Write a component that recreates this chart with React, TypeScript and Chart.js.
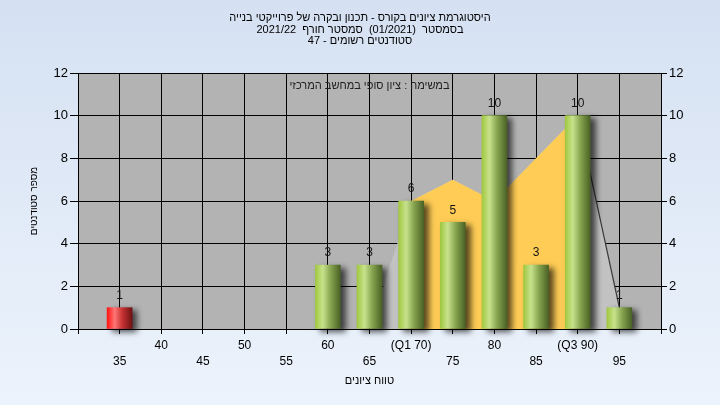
import React, { useEffect, useRef } from 'react';
import { Chart, registerables } from 'chart.js';

Chart.register(...registerables);

// ---- data ----
const categories = [30, 35, 40, 45, 50, 55, 60, 65, 70, 75, 80, 85, 90, 95, 100];
const tickLabels: string[][] = [
  [''], ['', '35'], ['40'], ['', '45'], ['50'], ['', '55'], ['60'], ['', '65'],
  ['(Q1 70)'], ['', '75'], ['80'], ['', '85'], ['(Q3 90)'], ['', '95'], [''],
];
const counts: (number | null)[] = [null, 1, 0, 0, 0, 0, 3, 3, 6, 5, 10, 3, 10, 1, null];
const envelope: (number | null)[] = [null, null, null, null, null, null, null, 0, 6, 7, 6, 8, 10, 1, null];
const quartileBand: (number | null)[] = [null, null, null, null, null, null, null, null, 6, 7, 6, 8, 10, null, null];
const failBelow = 55;
const yTickValues = [0, 2, 4, 6, 8, 10, 12];
const titleLines = [
  'היסטוגרמת ציונים בקורס - תכנון ובקרה של פרוייקטי בנייה',
  'בסמסטר  (01/2021)  סמסטר חורף  2021/22',
  'סטודנטים רשומים - 47',
];
const noteText = 'במשימה : ציון סופי במחשב המרכזי';
const xTitle = 'טווח ציונים';
const yTitle = 'מספר סטודנטים';

const FONT = '"Liberation Sans", Arial, sans-serif';

export default function App() {
  const ref = useRef<HTMLCanvasElement | null>(null);

  useEffect(() => {
    const canvas = ref.current;
    if (!canvas) return;

    const barFill = (c: any) => {
      const chart = c.chart;
      const xs = chart.scales && chart.scales.x;
      const idx = c.dataIndex;
      const isFail = idx != null && categories[idx] < failBelow;
      if (!xs || idx == null || !chart.chartArea) return isFail ? '#e02020' : '#9dc43c';
      const cx = xs.getPixelForValue(idx);
      const g = chart.ctx.createLinearGradient(cx - 12.5, 0, cx + 12.5, 0);
      if (isFail) {
        g.addColorStop(0, '#ff1414');
        g.addColorStop(0.3, '#ff7676');
        g.addColorStop(0.6, '#c83232');
        g.addColorStop(1, '#6e1212');
      } else {
        g.addColorStop(0, '#a0c840');
        g.addColorStop(0.3, '#c8e28c');
        g.addColorStop(0.6, '#88a650');
        g.addColorStop(1, '#4a6226');
      }
      return g;
    };

    const bgPlugin = {
      id: 'bg',
      beforeDraw(chart: any) {
        const { ctx, width, height, chartArea } = chart;
        ctx.save();
        const g = ctx.createLinearGradient(0, 0, 0, height);
        g.addColorStop(0, '#d5e1f2');
        g.addColorStop(1, '#ecf3fc');
        ctx.fillStyle = g;
        ctx.fillRect(0, 0, width, height);
        ctx.fillStyle = '#b3b3b3';
        ctx.fillRect(chartArea.left, chartArea.top, chartArea.right - chartArea.left, chartArea.bottom - chartArea.top);
        ctx.restore();
      },
    };

    const shadowPlugin = {
      id: 'shadow',
      beforeDatasetDraw(chart: any, args: any) {
        if (args.index !== 0) return;
        const ctx = chart.ctx;
        ctx.save();
        ctx.shadowColor = 'rgba(0,0,0,0.65)';
        ctx.shadowBlur = 6;
        ctx.shadowOffsetX = 5;
        ctx.shadowOffsetY = 3;
      },
      afterDatasetDraw(chart: any, args: any) {
        if (args.index !== 0) return;
        chart.ctx.restore();
      },
    };

    const textPlugin = {
      id: 'texts',
      afterDraw(chart: any) {
        const { ctx, chartArea } = chart;
        const meta = chart.getDatasetMeta(0);
        ctx.save();
        // value labels
        ctx.font = `12px ${FONT}`;
        ctx.fillStyle = '#141414';
        ctx.textAlign = 'center';
        ctx.textBaseline = 'middle';
        meta.data.forEach((el: any, i: number) => {
          const v = counts[i];
          if (v == null || v <= 0) return;
          ctx.fillText(String(v), el.x, el.y - 12);
        });
        ctx.direction = 'rtl';
        ctx.font = `11px ${FONT}`;
        // titles
        ctx.fillStyle = '#000';
        const ty = [18, 30, 41];
        titleLines.forEach((t, i) => ctx.fillText(t, 360, ty[i]));
        // note
        ctx.fillStyle = '#202020';
        ctx.fillText(noteText, (chartArea.left + chartArea.right) / 2, 86);
        // x title
        ctx.fillStyle = '#000';
        ctx.fillText(xTitle, (chartArea.left + chartArea.right) / 2, 381);
        // y title
        ctx.font = `10px ${FONT}`;
        ctx.translate(34, (chartArea.top + chartArea.bottom) / 2);
        ctx.rotate(-Math.PI / 2);
        ctx.fillText(yTitle, 0, 0);
        ctx.restore();
      },
    };

    const chart = new Chart(canvas, {
      type: 'bar',
      data: {
        labels: tickLabels as any,
        datasets: [
          {
            type: 'bar',
            data: counts.map((v) => (v === 0 ? null : v)),
            backgroundColor: barFill,
            borderWidth: 0,
            barThickness: 25,
            order: 0,
            clip: false as any,
          },
          {
            type: 'line',
            data: quartileBand,
            backgroundColor: '#ffcc55',
            borderColor: 'rgba(0,0,0,0)',
            borderWidth: 0,
            pointRadius: 0,
            fill: 'origin',
            tension: 0,
            order: 1,
          },
          {
            type: 'line',
            data: envelope,
            backgroundColor: '#c2c2c2',
            borderColor: 'rgba(0,0,0,0)',
            borderWidth: 1.2,
            pointRadius: 0,
            fill: 'origin',
            tension: 0,
            order: 2,
            segment: {
              borderColor: (s: any) => (s.p0DataIndex === 12 ? '#383838' : 'rgba(0,0,0,0)'),
            },
          },
        ] as any,
      },
      options: {
        responsive: false,
        animation: false,
        devicePixelRatio: 1,
        layout: { padding: { top: 73, left: 0, right: 0, bottom: 0 } },
        plugins: {
          legend: { display: false },
          title: { display: false },
          tooltip: { enabled: false },
        },
        scales: {
          x: {
            type: 'category',
            offset: false,
            grid: { color: '#000', lineWidth: 1, tickLength: 5, offset: false, drawTicks: true },
            border: { color: '#000', width: 1 },
            ticks: {
              autoSkip: false,
              maxRotation: 0,
              minRotation: 0,
              padding: 4,
              color: '#000',
              font: { family: FONT, size: 12, lineHeight: 1.34 },
            },
            afterFit(s: any) { s.height = 76; },
          },
          y: {
            position: 'left',
            min: 0,
            max: 12,
            afterBuildTicks(s: any) { s.ticks = yTickValues.map((v) => ({ value: v })); },
            grid: { color: '#000', lineWidth: 1, tickLength: 8 },
            border: { color: '#000', width: 1 },
            ticks: { color: '#000', padding: 2, font: { family: FONT, size: 13 } },
            afterFit(s: any) { s.width = 78; },
          },
          y2: {
            position: 'right',
            min: 0,
            max: 12,
            afterBuildTicks(s: any) { s.ticks = yTickValues.map((v) => ({ value: v })); },
            grid: { drawOnChartArea: false, color: '#000', tickLength: 6 },
            border: { color: '#000', width: 1 },
            ticks: { color: '#000', padding: 2, font: { family: FONT, size: 13 } },
            afterFit(s: any) { s.width = 59; },
          },
        },
      } as any,
      plugins: [bgPlugin, shadowPlugin, textPlugin],
    });

    return () => chart.destroy();
  }, []);

  return (
    <div style={{ position: 'fixed', left: 0, top: 0, width: 720, height: 405 }}>
      <canvas ref={ref} width={720} height={405} style={{ display: 'block', width: 720, height: 405 }} />
    </div>
  );
}
